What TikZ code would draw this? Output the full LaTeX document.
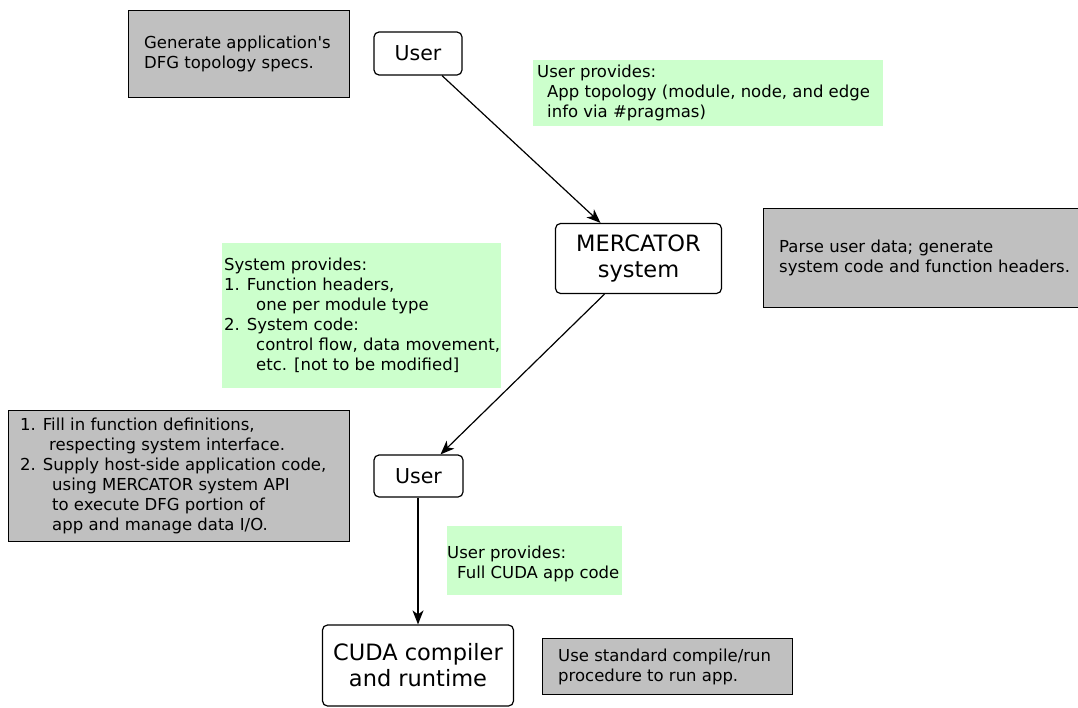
\documentclass[tikz,border=0pt]{standalone}
\usepackage{fontspec}
\newfontfamily\dvs{DejaVu Sans}
\usetikzlibrary{arrows.meta}
\definecolor{boxgray}{RGB}{192,192,192}
\definecolor{notegreen}{RGB}{204,255,204}
\tikzset{
  graybox/.style={draw=black, line width=1.3pt, fill=boxgray, anchor=north west, inner sep=0pt},
  greenbox/.style={fill=notegreen, anchor=north west, inner sep=0pt},
  rbox/.style={draw=black, line width=1.2pt, rounded corners=5pt, fill=white, inner sep=0pt,
               align=center, font=\dvs\fontsize{20.5}{26}\selectfont},
  bigtxt/.style={font=\dvs\fontsize{22.5}{26}\selectfont},
  txt/.style={font=\dvs\fontsize{16.5}{20}\selectfont, align=left, inner sep=0pt, anchor=west},
  arr/.style={line width=1.2pt, -{Stealth[length=14pt,width=11pt,inset=4pt]}}
}
\begin{document}
\begin{tikzpicture}[x=1pt,y=-1pt]
\useasboundingbox (0,0) rectangle (1078,707);

% gray boxes
\node[graybox, minimum width=221pt, minimum height=87pt] (g1) at (128,10) {};
\node[txt] (t1) at ([xshift=16pt]g1.west) {Generate application's\\DFG topology specs.};

\node[graybox, minimum width=322pt, minimum height=99pt] (g2) at (763,208) {};
\node[txt] (t2) at ([xshift=16pt]g2.west) {Parse user data; generate\\system code and function headers.};

\node[graybox, minimum width=341pt, minimum height=131pt] (g3) at (8,410) {};
\node[txt] (t3) at ([xshift=12pt]g3.west) {1. Fill in function definitions,\\
\hspace*{29pt}respecting system interface.\\
2. Supply host-side application code,\\
\hspace*{32pt}using MERCATOR system API\\
\hspace*{32pt}to execute DFG portion of\\
\hspace*{32pt}app and manage data I/O.};

\node[graybox, minimum width=250pt, minimum height=56pt] (g4) at (542,638) {};
\node[txt] (t4) at ([xshift=16pt]g4.west) {Use standard compile/run\\procedure to run app.};

% green notes
\node[greenbox, minimum width=350pt, minimum height=66pt] (n1) at (533,60) {};
\node[txt] (tn1) at ([xshift=4pt]n1.west) {User provides:\\
\hspace*{10pt}App topology (module, node, and edge\\
\hspace*{10pt}info via \#pragmas)};

\node[greenbox, minimum width=279pt, minimum height=145pt] (n2) at (222,243) {};
\node[txt] (tn2) at ([xshift=2pt]n2.west) {System provides:\\
1. Function headers,\\
\hspace*{32pt}one per module type\\
2. System code:\\
\hspace*{32pt}control flow, data movement,\\
\hspace*{32pt}etc. [not to be modified]};

\node[greenbox, minimum width=175pt, minimum height=69pt] (n3) at (447,526) {};
\node[txt] (tn3) at ([yshift=-3pt]n3.west) {User provides:\\
\hspace*{10pt}Full CUDA app code};

% main flow
\node[rbox, minimum width=88pt, minimum height=43pt] (u1) at (418,53.5) {User};
\node[rbox, bigtxt, minimum width=166pt, minimum height=70pt] (m) at (638.5,258.5) {MERCATOR\\system};
\node[rbox, minimum width=89pt, minimum height=42pt] (u2) at (418.5,476) {User};
\node[rbox, bigtxt, minimum width=191pt, minimum height=81pt] (cuda) at (418,665.5) {CUDA compiler\\and runtime};

\draw[arr] ([xshift=24pt]u1.south) -- ([xshift=-38pt]m.north);
\draw[arr] ([xshift=-34pt]m.south) -- ([xshift=22pt]u2.north);
\draw[arr] ([xshift=-0.5pt]u2.south) -- (cuda.north);
\end{tikzpicture}
\end{document}
